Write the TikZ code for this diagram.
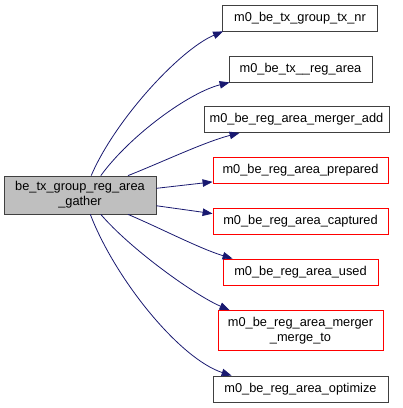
\documentclass[tikz,border=0pt]{standalone}
\usepackage{fontspec}
\setmainfont{Liberation Sans}
\usetikzlibrary{arrows.meta}
\definecolor{edgeblue}{HTML}{191970}
\definecolor{boxgray}{HTML}{404040}

\begin{document}
\begin{tikzpicture}[x=1pt,y=-1pt,
		fn/.style={draw=boxgray, line width=0.8pt, inner sep=0pt, align=center,
			font=\fontsize{12.8}{15}\selectfont, minimum height=26pt},
		fnred/.style={fn, draw=red},
		call/.style={draw=edgeblue, line width=0.8pt, -{Triangle[length=10pt,width=7.5pt]}}]
			\useasboundingbox (0,0) rectangle (403,408);

			\node[fn, fill=black!25, minimum width=152pt, minimum height=38pt] (gather) at (80,195) {be\_tx\_group\_reg\_area\\\_gather};

			\node[fn, minimum width=155pt] (txnr) at (300,18) {m0\_be\_tx\_group\_tx\_nr};
			\node[fn, minimum width=143pt] (regarea) at (300.5,69) {m0\_be\_tx\_\_reg\_area};
			\node[fn, minimum width=185pt] (mergeradd) at (296.5,119.5) {m0\_be\_reg\_area\_merger\_add};
			\node[fnred, minimum width=175pt] (prepared) at (300.5,170.5) {m0\_be\_reg\_area\_prepared};
			\node[fnred, minimum width=175pt] (captured) at (300.5,221) {m0\_be\_reg\_area\_captured};
			\node[fnred, minimum width=155pt] (used) at (300.5,272) {m0\_be\_reg\_area\_used};
			\node[fnred, minimum width=165pt, minimum height=40pt] (mergerto) at (300.5,330.5) {m0\_be\_reg\_area\_merger\\\_merge\_to};
			\node[fn, minimum width=175pt] (optimize) at (300.5,389) {m0\_be\_reg\_area\_optimize};

			\draw[call] (gather.60) .. controls +(24,-56) and +(-43,18) .. ([xshift=1pt]txnr.south west);
			\draw[call] (gather.43) .. controls +(30,-41) and +(-40,10) .. ([xshift=1pt]regarea.south west);
			\draw[call] (gather.22) .. controls +(33,-13) and +(-35,9) .. ([xshift=36pt]mergeradd.south west);
			\draw[call] (gather.5) -- ([yshift=2pt]prepared.south west);
			\draw[call] (gather.-8) -- ([yshift=-6pt]captured.north west);
			\draw[call] (gather.-22) .. controls +(33,14) and +(-33,-10) .. ([xshift=10pt]used.north west);
			\draw[call] (gather.-43) .. controls +(30,35) and +(-35,-15) .. ([xshift=12pt]mergerto.north west);
			\draw[call] (gather.-62) .. controls +(25,65) and +(-52,-17) .. ([xshift=19pt]optimize.north west);
		\end{tikzpicture}
\end{document}
